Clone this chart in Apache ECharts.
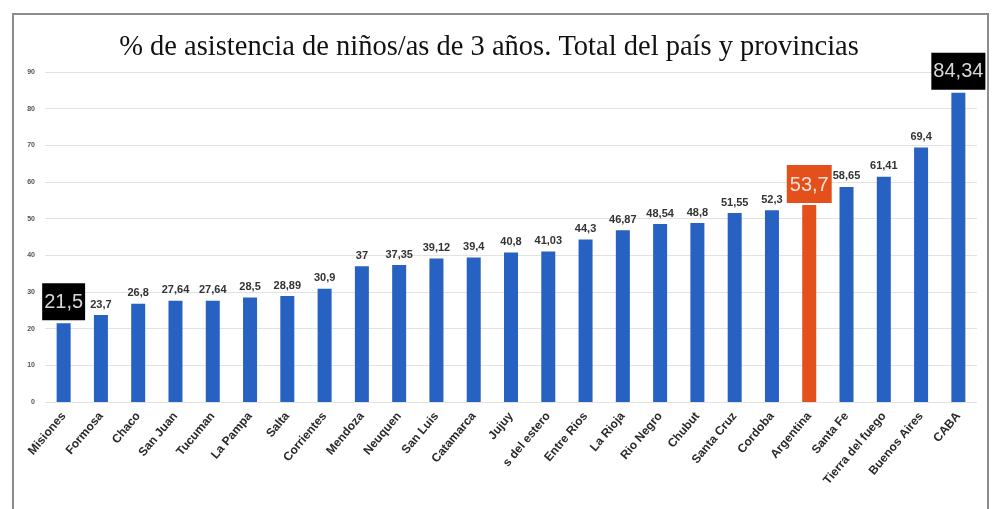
<!DOCTYPE html>
<html>
<head>
<meta charset="utf-8">
<script src="https://cdn.jsdelivr.net/npm/echarts@6/dist/echarts.min.js"></script>
<style>
  html, body { margin: 0; padding: 0; background: #fff; }
  #chart { width: 996px; height: 509px; }
</style>
</head>
<body>
<div id="chart"></div>
<script>
// provincias ordenadas por % de asistencia
const provincias = ['Misiones', 'Formosa', 'Chaco', 'San Juan', 'Tucuman', 'La Pampa', 'Salta',
  'Corrientes', 'Mendoza', 'Neuquen', 'San Luis', 'Catamarca', 'Jujuy', 's del estero',
  'Entre Rios', 'La Rioja', 'Rio Negro', 'Chubut', 'Santa Cruz', 'Cordoba', 'Argentina',
  'Santa Fe', 'Tierra del fuego', 'Buenos Aires', 'CABA'];
const asistencia = [21.5, 23.7, 26.8, 27.64, 27.64, 28.5, 28.89, 30.9, 37, 37.35, 39.12, 39.4,
  40.8, 41.03, 44.3, 46.87, 48.54, 48.8, 51.55, 52.3, 53.7, 58.65, 61.41, 69.4, 84.34];
const ticksY = [0, 10, 20, 30, 40, 50, 60, 70, 80, 90];

// minimo, total pais y maximo van resaltados
const enCaja = ['Misiones', 'CABA'];
const totalPais = 'Argentina';

const azul = '#2761c2';
const naranja = '#e4501b';

function coma(v) {
  return String(v).replace('.', ',');
}

const datos = asistencia.map((v, i) => {
  const nombre = provincias[i];
  const item = { value: v };
  if (nombre === totalPais) {
    item.itemStyle = { color: naranja };
    item.label = {
      backgroundColor: naranja, color: '#f6e0d6', fontSize: 20,
      fontFamily: 'Liberation Sans Narrow, Liberation Sans, sans-serif', fontWeight: 'normal',
      padding: [10, 3, 8, 3], distance: 2
    };
  } else if (enCaja.includes(nombre)) {
    item.label = {
      backgroundColor: '#000', color: '#d8d8d8', fontSize: 20,
      fontFamily: 'Liberation Sans Narrow, Liberation Sans, sans-serif', fontWeight: 'normal',
      padding: [9, 2, 8, 2], distance: 3
    };
  }
  return item;
});

const chart = echarts.init(document.getElementById('chart'));

chart.setOption({
  backgroundColor: '#fff',
  animation: false,
  title: {
    text: '% de asistencia de niños/as de 3 años. Total del país y provincias',
    left: 484,
    textAlign: 'center',
    top: 28,
    textStyle: {
      fontFamily: 'Liberation Serif, serif',
      fontWeight: 'normal',
      fontSize: 28.5,
      color: '#111'
    }
  },
  graphic: [{
    type: 'polyline',
    shape: { points: [[13, 509], [13, 14], [988, 14], [988, 509]] },
    style: { stroke: '#8c8c8c', lineWidth: 2, fill: null },
    silent: true
  }],
  grid: { left: 45, right: 19, top: 72, bottom: 107 },
  xAxis: {
    type: 'category',
    data: provincias,
    axisLine: { show: false },
    axisTick: { show: false },
    axisLabel: {
      interval: 0,
      rotate: 50,
      margin: 12,
      fontSize: 12,
      fontWeight: 'bold',
      color: '#2a2a2a',
      fontFamily: 'Liberation Sans, sans-serif'
    }
  },
  yAxis: {
    type: 'value',
    min: ticksY[0],
    max: ticksY[ticksY.length - 1],
    interval: 10,
    axisLine: { show: false },
    axisTick: { show: false },
    splitLine: { lineStyle: { color: '#e2e2e2', width: 1 } },
    axisLabel: {
      margin: 10,
      fontSize: 7,
      fontWeight: 'bold',
      color: '#555',
      fontFamily: 'Liberation Sans, sans-serif'
    }
  },
  series: [{
    type: 'bar',
    data: datos,
    barWidth: 14,
    itemStyle: { color: azul },
    label: {
      show: true,
      position: 'top',
      distance: 5,
      fontSize: 11,
      color: '#333',
      fontFamily: 'Liberation Sans Narrow, Liberation Sans, sans-serif',
      fontWeight: 'bold',
      formatter: p => coma(p.value)
    }
  }]
});
</script>
</body>
</html>
